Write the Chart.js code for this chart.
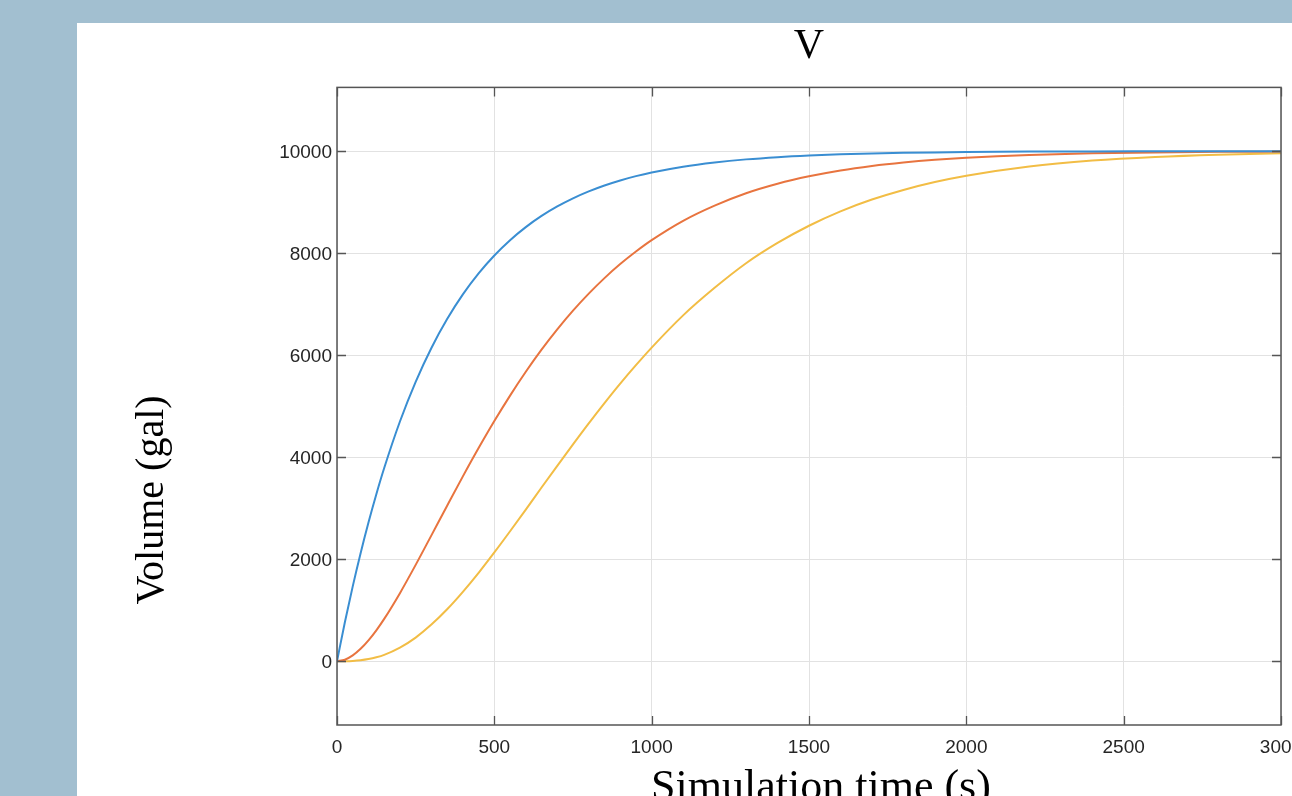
<!DOCTYPE html>
<html><head><meta charset="utf-8">
<script src="https://cdn.jsdelivr.net/npm/chart.js@4.4.1/dist/chart.umd.min.js"></script>
<style>html,body{margin:0;padding:0;background:#a2bfd0;overflow:hidden}canvas{display:block}</style>
</head><body>
<canvas id="c" width="1292" height="796"></canvas>
<script>
// ---- data ----
const timeS = [0,25,50,75,100,125,150,200,250,300,350,400,450,500,550,600,650,700,750,800,850,900,950,1000,1100,1200,1300,1400,1500,1600,1700,1800,1900,2000,2200,2400,2600,2800,3000];
const volumeTank1 = [0,763,1468,2119,2720,3275,3788,4700,5478,6142,6708,7191,7603,7955,8255,8511,8730,8916,9075,9211,9327,9426,9510,9582,9696,9778,9839,9883,9915,9938,9955,9967,9976,9983,9991,9995,9997,9999,9999];
const volumeTank2 = [0,30,114,243,409,606,830,1335,1889,2468,3050,3624,4179,4709,5208,5675,6109,6507,6873,7207,7511,7786,8032,8255,8634,8932,9175,9361,9507,9622,9710,9778,9831,9871,9926,9958,9976,9986,9992];
const volumeTank3 = [0,1,6,19,42,77,125,267,464,718,1018,1360,1733,2133,2548,2974,3406,3831,4251,4663,5061,5443,5804,6149,6781,7321,7803,8201,8538,8820,9051,9240,9395,9519,9700,9815,9887,9932,9959];
const xTickValues = [0,500,1000,1500,2000,2500,3000];
const yTickValues = [0,2000,4000,6000,8000,10000];
const chartTitle = 'V';
const xAxisTitle = 'Simulation time (s)';
const yAxisTitle = 'Volume (gal)';
const seriesColors = ['#3a8ed2','#e8743f','#f2bd45'];

const toPts = arr => timeS.map((t,i)=>({x:t,y:arr[i]}));

const decor = {
  id:'decor',
  beforeDraw(chart){
    const ctx = chart.ctx;
    ctx.save();
    ctx.fillStyle = '#a2bfd0';
    ctx.fillRect(0,0,chart.width,chart.height);
    ctx.fillStyle = '#ffffff';
    ctx.fillRect(77,23,chart.width-77,chart.height-23);
    ctx.restore();
  },
  afterDatasetsDraw(chart){
    const ctx = chart.ctx, a = chart.chartArea, xs = chart.scales.x, ys = chart.scales.y;
    ctx.save();
    ctx.strokeStyle = '#555555';
    ctx.lineWidth = 1.3;
    ctx.beginPath();
    const tl = 9;
    xTickValues.forEach(v=>{
      const p = Math.round(xs.getPixelForValue(v))+0.5;
      ctx.moveTo(p,a.bottom); ctx.lineTo(p,a.bottom-tl);
      ctx.moveTo(p,a.top); ctx.lineTo(p,a.top+tl);
    });
    yTickValues.forEach(v=>{
      const p = Math.round(ys.getPixelForValue(v))+0.5;
      ctx.moveTo(a.left,p); ctx.lineTo(a.left+tl,p);
      ctx.moveTo(a.right,p); ctx.lineTo(a.right-tl,p);
    });
    ctx.stroke();
    ctx.lineWidth = 1.5;
    ctx.strokeRect(a.left,a.top,a.right-a.left,a.bottom-a.top);
    // axis titles
    ctx.fillStyle = '#000000';
    ctx.textAlign = 'center';
    ctx.textBaseline = 'alphabetic';
    ctx.font = '44px "Liberation Serif", serif';
    ctx.fillText(xAxisTitle, 821, 800);
    ctx.translate(163, 500);
    ctx.rotate(-Math.PI/2);
    ctx.font = '40px "Liberation Serif", serif';
    ctx.fillText(yAxisTitle, 0, 0);
    ctx.restore();
  }
};

const tickFont = {family:'"Liberation Sans", Arial, sans-serif',size:19};

new Chart(document.getElementById('c'), {
  type:'line',
  data:{
    datasets:[
      {data:toPts(volumeTank1), borderColor:seriesColors[0]},
      {data:toPts(volumeTank2), borderColor:seriesColors[1]},
      {data:toPts(volumeTank3), borderColor:seriesColors[2]}
    ].map(d=>Object.assign(d,{borderWidth:2,pointRadius:0,cubicInterpolationMode:'monotone',fill:false}))
  },
  options:{
    responsive:false,
    animation:false,
    devicePixelRatio:1,
    layout:{padding:{left:0,right:11,top:0,bottom:0}},
    plugins:{
      legend:{display:false},
      tooltip:{enabled:false},
      title:{
        display:true,
        fullSize:false,
        text:chartTitle,
        color:'#000000',
        font:{family:'"Liberation Serif", serif',size:42,weight:'normal',lineHeight:1.2},
        padding:{top:22,bottom:15}
      }
    },
    scales:{
      x:{
        type:'linear',
        min:0,max:3000,
        afterBuildTicks(s){ s.ticks = xTickValues.map(v=>({value:v})); },
        afterFit(s){ s.height = 71; s.paddingLeft = 0; s.paddingRight = 0; },
        grid:{color:'#e2e2e2',lineWidth:1,drawTicks:false},
        border:{display:false},
        ticks:{color:'#262626',padding:11,maxRotation:0,autoSkip:false,font:tickFont,callback:v=>String(v)}
      },
      y:{
        type:'linear',
        min:-1250,max:11250,
        afterBuildTicks(s){ s.ticks = yTickValues.map(v=>({value:v})); },
        afterFit(s){ s.width = 337; s.paddingTop = 0; s.paddingBottom = 0; },
        grid:{color:'#e2e2e2',lineWidth:1,drawTicks:false},
        border:{display:false},
        ticks:{color:'#262626',padding:5,labelOffset:2,autoSkip:false,font:tickFont,callback:v=>String(v)}
      }
    }
  },
  plugins:[decor]
});
</script>
</body></html>
